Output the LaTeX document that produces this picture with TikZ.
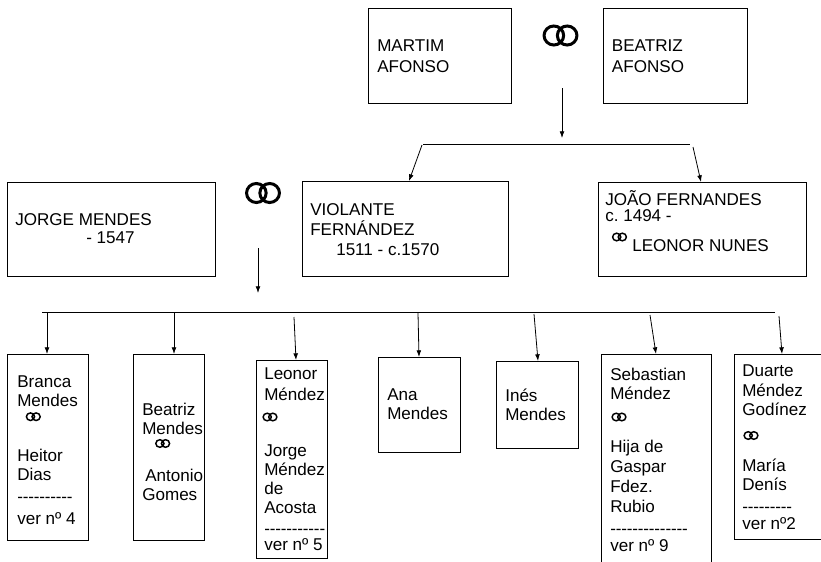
\documentclass[tikz,border=0pt]{standalone}
\usepackage{fontspec}
\setmainfont{Liberation Sans}
\usetikzlibrary{arrows.meta,calc}
\frenchspacing
\tikzset{
  box/.style={draw, line width=0.8pt, anchor=north west, inner sep=0pt},
  txt/.style={anchor=base west, inner sep=0pt, font=\fontsize{12.8pt}{15pt}\selectfont},
  arr/.style={line width=0.6pt, -{Latex[length=5pt,width=3.6pt]}},
  link/.style={line width=0.7pt},
  bigrings/.pic={\draw[line width=2.25pt] (-6.65,0) ellipse [x radius=9.8, y radius=9.5] (6.65,0) ellipse [x radius=9.8, y radius=9.5];},
  smallrings/.pic={\draw[line width=1.1pt] (-2.8,0) ellipse [x radius=4.1, y radius=3.8] (2.8,0) ellipse [x radius=4.1, y radius=3.8];},
}
\newcommand\bx[5]{\node[box, minimum width={(#4-#2)*0.75pt}, minimum height={(#5-#3)*0.75pt}] (#1) at (#2,#3) {};}
\newcommand\tl[3]{\node[txt] (#1) at (#2) {#3};}
\newcommand\dashes[1]{\foreach\i in {1,...,#1}{-\kern-0.12pt}}
\begin{document}
\begin{tikzpicture}[x=0.75pt,y=-0.75pt]
\clip (0,0) rectangle (821,561);
\fill[white] (0,0) rectangle (821,561);

% ---------- boxes ----------
\bx{martim}{368}{8}{511}{103}
\bx{beatriz}{603}{8}{747}{103}
\bx{jorge}{7}{182}{215}{276}
\bx{violante}{302}{181}{508}{276}
\bx{joao}{598}{182}{806}{276}
\bx{branca}{7}{354}{88}{540}
\bx{beatrizm}{133}{354}{204}{540}
\bx{leonor}{256}{360}{327}{558}
\bx{ana}{378}{357}{460}{452}
\bx{ines}{496}{361}{578}{448}
\bx{sebastian}{601}{354}{711}{580}
\bx{duarte}{734}{354}{840}{539}

% ---------- texts ----------
\tl{m1}{377,51.7}{MARTIM}
\tl{m2}{377,72.7}{AFONSO}
\tl{b1}{611.7,51.7}{BEATRIZ}
\tl{b2}{611.7,72.7}{AFONSO}
\tl{j1}{15,225}{JORGE MENDES}
\tl{j2}{86,243.3}{- 1547}
\tl{v1}{310,215}{VIOLANTE}
\tl{v2}{310,235}{FERNÁNDEZ}
\tl{v3}{336,255}{1511 - c.1570}
\tl{o1}{605,205}{JOÃO FERNANDES}
\tl{o2}{605,221.7}{c. 1494 -}
\tl{o3}{632,251}{LEONOR NUNES}

\tl{br1}{17,387}{Branca}
\tl{br2}{17,406}{Mendes}
\tl{br3}{17,461}{Heitor}
\tl{br4}{17,480}{Dias}
\tl{br5}{17,502}{\dashes{10}}
\tl{br6}{17,524}{ver nº 4}

\tl{bm1}{142,415}{Beatriz}
\tl{bm2}{142,434}{Mendes}
\tl{bm3}{145,481.7}{Antonio}
\tl{bm4}{142,500}{Gomes}

\tl{le1}{264,379}{Leonor}
\tl{le2}{264,400}{Méndez}
\tl{le3}{264,456.7}{Jorge}
\tl{le4}{264,475}{Méndez}
\tl{le5}{264,494}{de}
\tl{le6}{264,513}{Acosta}
\tl{le7}{264,534}{\dashes{11}}
\tl{le8}{264,550.7}{ver nº 5}

\tl{an1}{387,400}{Ana}
\tl{an2}{387,419}{Mendes}

\tl{in1}{505,401.7}{Inés}
\tl{in2}{505,420}{Mendes}

\tl{se1}{610,380}{Sebastian}
\tl{se2}{610,399}{Méndez}
\tl{se3}{610,452}{Hija de}
\tl{se4}{610,472}{Gaspar}
\tl{se5}{610,492}{Fdez.}
\tl{se6}{610,512}{Rubio}
\tl{se7}{610,534}{\dashes{14}}
\tl{se8}{610,551}{ver nº 9}

\tl{du1}{742,376.7}{Duarte}
\tl{du2}{742,396.7}{Méndez}
\tl{du3}{742,415}{Godínez}
\tl{du4}{742,471.7}{María}
\tl{du5}{742,490}{Denís}
\tl{du6}{742,512}{\dashes{9}}
\tl{du7}{742,529}{ver nº2}

% ---------- rings ----------
\pic at (560.5,35.5) {bigrings};
\pic at (263,193) {bigrings};
\pic at (619.5,237) {smallrings};
\pic at (33.3,416.7) {smallrings};
\pic at (162.7,443.5) {smallrings};
\pic at (270,417) {smallrings};
\pic at (619,417) {smallrings};
\pic at (751,435.5) {smallrings};

% ---------- connectors ----------
\coordinate (p0) at (562,88);
\coordinate (p1) at (562,138);
\draw[arr] (p0) -- (p1);
\coordinate (h1L) at (423,144.5);
\coordinate (h1R) at (690,144.5);
\draw[link] (h1L) -- (h1R);
\coordinate (s1) at (422,145);
\coordinate (s2) at (693,147);
\draw[arr] (s1) -- ($(violante.north west)+(107,0)$);
\draw[arr] (s2) -- ($(joao.north west)+(103,0)$);

\coordinate (q0) at (258,248);
\coordinate (q1) at (258,293);
\draw[arr] (q0) -- (q1);

\coordinate (h2L) at (42,312.5);
\coordinate (h2R) at (775,312.5);
\draw[link] (h2L) -- (h2R);
\coordinate (c1) at (47,313);
\coordinate (c2) at (174,313);
\coordinate (c3) at (294,317);
\coordinate (c4) at (418,313);
\coordinate (c5) at (534,314);
\coordinate (c6) at (650,315);
\coordinate (c7) at (779,316);
\draw[arr] (c1) -- ($(branca.north west)+(40,0)$);
\draw[arr] (c2) -- ($(beatrizm.north west)+(41,0)$);
\draw[arr] (c3) -- ($(leonor.north west)+(40,0)$);
\draw[arr] (c4) -- ($(ana.north west)+(41,0)$);
\draw[arr] (c5) -- ($(ines.north west)+(42,0)$);
\draw[arr] (c6) -- ($(sebastian.north west)+(55,0)$);
\draw[arr] (c7) -- ($(duarte.north west)+(48,0)$);
\end{tikzpicture}
\end{document}
